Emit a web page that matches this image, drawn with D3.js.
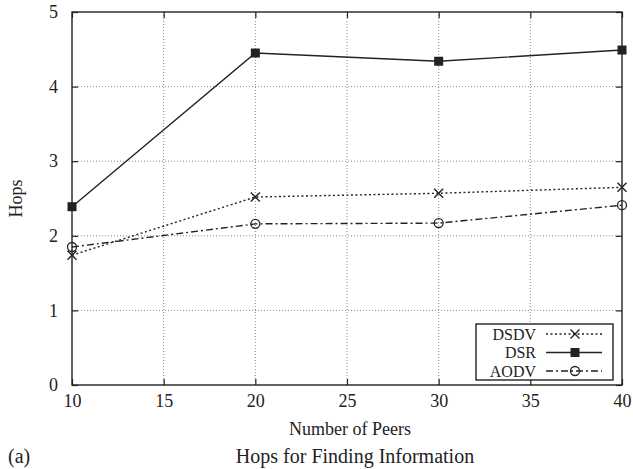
<!DOCTYPE html>
<html>
<head>
<meta charset="utf-8">
<script src="https://cdn.jsdelivr.net/npm/d3@7"></script>
<style>
  html, body { margin: 0; padding: 0; background: #fff; }
  text { font-family: "Liberation Serif", "Times New Roman", serif; fill: #222; }
</style>
</head>
<body>
<svg id="chart" width="633" height="469"></svg>
<script>
// Average hop count per routing protocol vs. network size
const peers = [10, 20, 30, 40];
const dsdv = [1.74, 2.52, 2.57, 2.65];
const dsr  = [2.39, 4.45, 4.34, 4.49];
const aodv = [1.85, 2.16, 2.17, 2.41];
const xTicks = [10, 15, 20, 25, 30, 35, 40];
const yTicks = [0, 1, 2, 3, 4, 5];
const seriesNames = ["DSDV", "DSR", "AODV"];

const svg = d3.select("#chart");
const m = { left: 72, right: 622, top: 12, bottom: 385 };

const x = d3.scaleLinear().domain([10, 40]).range([m.left, m.right]);
const y = d3.scaleLinear().domain([0, 5]).range([m.bottom, m.top]);

// grid
const grid = svg.append("g");
grid.selectAll(".gx").data(xTicks.slice(1, -1)).join("line")
  .attr("x1", d => x(d)).attr("x2", d => x(d))
  .attr("y1", m.top).attr("y2", m.bottom)
  .attr("stroke", "#888").attr("stroke-width", 1).attr("stroke-dasharray", "1,2");
grid.selectAll(".gy").data(yTicks.slice(1, -1)).join("line")
  .attr("x1", m.left).attr("x2", m.right)
  .attr("y1", d => y(d)).attr("y2", d => y(d))
  .attr("stroke", "#888").attr("stroke-width", 1).attr("stroke-dasharray", "1,2");

// axes with inward ticks, mirrored on top/right
const tk = 6;
const fmt = d3.format("d");
const axB = svg.append("g").attr("transform", `translate(0,${m.bottom})`)
  .call(d3.axisBottom(x).tickValues(xTicks).tickFormat(fmt).tickSize(-tk).tickPadding(9));
const axT = svg.append("g").attr("transform", `translate(0,${m.top})`)
  .call(d3.axisTop(x).tickValues(xTicks).tickSize(-tk).tickFormat(""));
const axL = svg.append("g").attr("transform", `translate(${m.left},0)`)
  .call(d3.axisLeft(y).tickValues(yTicks).tickFormat(fmt).tickSize(-tk).tickPadding(14));
const axR = svg.append("g").attr("transform", `translate(${m.right},0)`)
  .call(d3.axisRight(y).tickValues(yTicks).tickSize(-tk).tickFormat(""));
[axB, axT, axL, axR].forEach(a => {
  a.select(".domain").remove();
  a.selectAll("line").attr("stroke", "#222").attr("stroke-width", 1.2);
  a.selectAll("text").style("font-family", "Liberation Serif").style("font-size", "18px").attr("fill", "#222");
});

// frame
svg.append("rect").attr("x", m.left).attr("y", m.top)
  .attr("width", m.right - m.left).attr("height", m.bottom - m.top)
  .attr("fill", "none").attr("stroke", "#222").attr("stroke-width", 1.4);

// series
const styles = [
  { vals: dsdv, dash: "2,2.5", marker: "x" },
  { vals: dsr,  dash: null,    marker: "square" },
  { vals: aodv, dash: "7,3,2,3", marker: "circle" }
];
const line = d3.line().x(d => x(d[0])).y(d => y(d[1]));

function drawMarker(g, type, cx, cy) {
  if (type === "x") {
    const s = 4.5;
    g.append("path").attr("d", `M${cx - s},${cy - s}L${cx + s},${cy + s}M${cx - s},${cy + s}L${cx + s},${cy - s}`)
      .attr("stroke", "#222").attr("stroke-width", 1.4).attr("fill", "none");
  } else if (type === "square") {
    g.append("rect").attr("x", cx - 4.5).attr("y", cy - 4.5).attr("width", 9).attr("height", 9).attr("fill", "#222");
  } else {
    g.append("circle").attr("cx", cx).attr("cy", cy).attr("r", 4.5)
      .attr("fill", "none").attr("stroke", "#222").attr("stroke-width", 1.3);
  }
}

styles.forEach(s => {
  const pts = peers.map((p, i) => [p, s.vals[i]]);
  const g = svg.append("g");
  g.append("path").datum(pts).attr("d", line)
    .attr("fill", "none").attr("stroke", "#222").attr("stroke-width", 1.4)
    .attr("stroke-dasharray", s.dash);
  pts.forEach(p => drawMarker(g, s.marker, x(p[0]), y(p[1])));
});

// legend
const lg = svg.append("g");
lg.append("rect").attr("x", 476).attr("y", 324).attr("width", 137).attr("height", 56)
  .attr("fill", "#fff").attr("stroke", "#222").attr("stroke-width", 1.4);
seriesNames.forEach((n, i) => {
  const ry = 334 + i * 18.5;
  lg.append("text").attr("x", 536).attr("y", ry).attr("dy", "0.35em")
    .attr("text-anchor", "end").style("font-size", "16px").text(n);
  lg.append("line").attr("x1", 546).attr("x2", 602).attr("y1", ry).attr("y2", ry)
    .attr("stroke", "#222").attr("stroke-width", 1.4).attr("stroke-dasharray", styles[i].dash);
  drawMarker(lg, styles[i].marker, 575, ry);
});

// titles
svg.append("text").attr("x", 22).attr("y", (m.top + m.bottom) / 2)
  .attr("transform", `rotate(-90,22,${(m.top + m.bottom) / 2})`)
  .attr("text-anchor", "middle").style("font-size", "18px").text("Hops");
svg.append("text").attr("x", 350).attr("y", 435)
  .attr("text-anchor", "middle").style("font-size", "18px").text("Number of Peers");
svg.append("text").attr("x", 8).attr("y", 463).style("font-size", "20px").text("(a)");
svg.append("text").attr("x", 355).attr("y", 463)
  .attr("text-anchor", "middle").style("font-size", "20px").text("Hops for Finding Information");
</script>
</body>
</html>
